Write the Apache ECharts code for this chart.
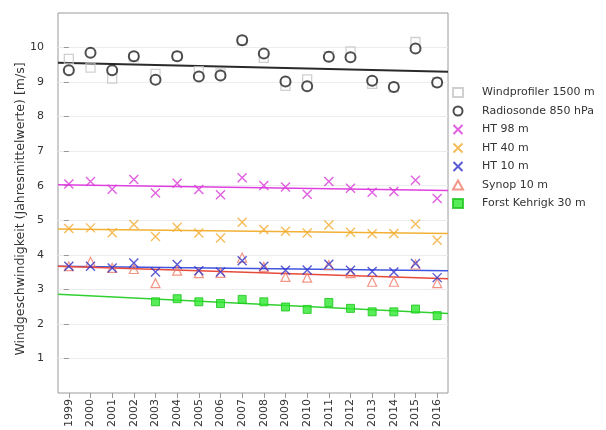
<!DOCTYPE html>
<html>
<head>
<meta charset="utf-8">
<script src="https://cdn.jsdelivr.net/npm/echarts@6/dist/echarts.min.js"></script>
<style>
html,body{margin:0;padding:0;background:#fff;}
#chart{width:606px;height:430px;}
</style>
</head>
<body>
<div id="chart"></div>
<script>
// ---- data ----
const years = ['1999','2000','2001','2002','2003','2004','2005','2006','2007','2008','2009','2010','2011','2012','2013','2014','2015','2016'];
const windprofiler = [9.67, 9.42, 9.10, 9.72, 9.24, 9.75, 9.32, 9.25, 10.20, 9.70, 8.89, 9.08, 9.75, 9.89, 8.95, 8.85, 10.16, 9.00];
const radiosonde   = [9.34, 9.85, 9.34, 9.75, 9.07, 9.75, 9.16, 9.19, 10.21, 9.83, 9.02, 8.88, 9.73, 9.72, 9.04, 8.86, 9.97, 8.99];
const ht98  = [6.05, 6.12, 5.90, 6.18, 5.79, 6.07, 5.89, 5.74, 6.23, 6.01, 5.96, 5.75, 6.12, 5.93, 5.81, 5.83, 6.16, 5.63];
const ht40  = [4.76, 4.78, 4.64, 4.88, 4.53, 4.80, 4.63, 4.49, 4.94, 4.73, 4.68, 4.63, 4.86, 4.65, 4.61, 4.62, 4.89, 4.42];
const ht10  = [3.67, 3.67, 3.62, 3.76, 3.50, 3.72, 3.54, 3.50, 3.83, 3.67, 3.55, 3.56, 3.73, 3.55, 3.52, 3.50, 3.75, 3.34];
const synop = [3.67, 3.80, 3.62, 3.59, 3.18, 3.54, 3.47, 3.48, 3.92, 3.65, 3.36, 3.34, 3.70, 3.47, 3.22, 3.22, 3.72, 3.18];
const forst = ['-', '-', '-', '-', 2.64, 2.73, 2.64, 2.59, 2.71, 2.64, 2.49, 2.42, 2.62, 2.45, 2.35, 2.35, 2.43, 2.24];
// trend lines: values at left and right edge of the plot
const trendRadiosonde = [9.56, 9.30];
const trendHt98  = [6.03, 5.86];
const trendHt40  = [4.75, 4.62];
const trendHt10  = [3.67, 3.54];
const trendSynop = [3.67, 3.31];
const trendForst = [2.86, 2.30];
const yTicks = [1,2,3,4,5,6,7,8,9,10];
const yName = 'Windgeschwindigkeit (Jahresmittelwerte) [m/s]';

const names = ['Windprofiler 1500 m','Radiosonde 850 hPa','HT 98 m','HT 40 m','HT 10 m','Synop 10 m','Forst Kehrigk 30 m'];
const X_PATH = 'path://M0,0L10,10M0,10L10,0';

function trend(vals, color, width){
  return {
    type:'line', xAxisIndex:1, yAxisIndex:0, symbol:'none', silent:true, z:1,
    data:[[-0.5, vals[0]],[years.length-0.5, vals[1]]],
    lineStyle:{color:color, width:width}
  };
}
function scatter(name, data, symbol, size, itemStyle, z){
  return {type:'scatter', name:name, data:data, symbol:symbol, symbolSize:size, itemStyle:itemStyle, z:z||3, xAxisIndex:0};
}

const chart = echarts.init(document.getElementById('chart'), null, {renderer:'canvas'});
const font = 'DejaVu Sans';
chart.setOption({
  animation:false,
  backgroundColor:'#fff',
  grid:{left:58, top:13, width:390, height:384, show:true, borderColor:'#9a9a9a', borderWidth:1, backgroundColor:'transparent'},
  xAxis:[{
    type:'category', data:years, boundaryGap:true,
    axisLine:{show:false},
    axisTick:{show:true, alignWithLabel:true, length:5, lineStyle:{color:'#999'}},
    axisLabel:{rotate:90, fontFamily:font, fontSize:11, color:'#333', margin:6},
    splitLine:{show:false}
  },{
    type:'value', min:-0.5, max:years.length-0.5, show:false
  }],
  yAxis:{
    type:'value', min:0, max:11, interval:1,
    axisLine:{show:false},
    axisTick:{show:true, length:5, lineStyle:{color:'#999'}, customValues:yTicks},
    axisLabel:{fontFamily:font, fontSize:11, color:'#333', margin:14, customValues:yTicks},
    splitLine:{show:true, lineStyle:{color:'#ececec', width:1}},
    name:yName, nameLocation:'middle', nameGap:31, nameMoveOverlap:false,
    nameTextStyle:{fontFamily:font, fontSize:12.5, color:'#333', padding:[0,12,0,0]}
  },
  legend:{
    orient:'vertical', left:447, top:82, itemWidth:10, itemHeight:9, itemGap:7.5,
    data:names,
    textStyle:{fontFamily:font, fontSize:11, color:'#333', padding:[0,0,0,14]}
  },
  series:[
    trend(trendRadiosonde, '#2a2a2a', 2),
    trend(trendHt98, '#e040e0', 1.5),
    trend(trendHt40, '#f2b035', 1.5),
    trend(trendHt10, '#4055e0', 1.5),
    trend(trendSynop, '#e84a3a', 1.5),
    trend(trendForst, '#30d030', 1.5),
    scatter(names[0], windprofiler, 'rect', 9, {color:'transparent', borderColor:'#c4c4c4', borderWidth:1.3}, 2),
    scatter(names[1], radiosonde, 'emptyCircle', 10, {color:'#222', borderColor:'#222', borderWidth:2.2}, 3),
    scatter(names[2], ht98, X_PATH, 9, {color:'#d838d8', borderColor:'#d838d8', borderWidth:1.4}, 3),
    scatter(names[3], ht40, X_PATH, 9, {color:'#f2ab30', borderColor:'#f2ab30', borderWidth:1.4}, 3),
    scatter(names[4], ht10, X_PATH, 9, {color:'#3030c8', borderColor:'#3030c8', borderWidth:1.4}, 4),
    scatter(names[5], synop, 'triangle', 9, {color:'transparent', borderColor:'#f07a68', borderWidth:1.2}, 3),
    scatter(names[6], forst, 'rect', 8, {color:'#2ee82e', borderColor:'#1cc41c', borderWidth:1}, 3)
  ]
});
</script>
</body>
</html>
